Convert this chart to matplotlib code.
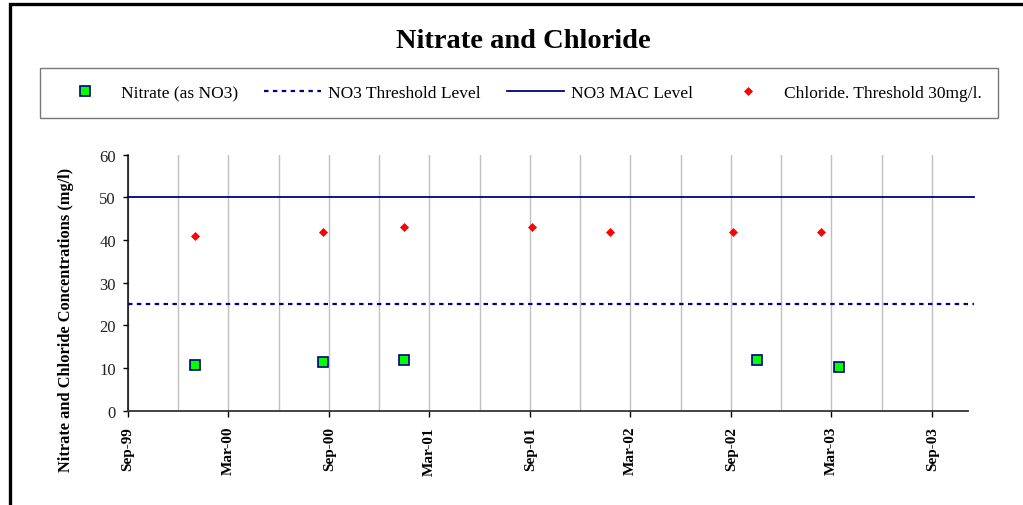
import matplotlib
matplotlib.use("Agg")
import matplotlib.pyplot as plt
import matplotlib.dates as mdates
import matplotlib.patches as mpatches
import numpy as np
import pandas as pd

# ---- data ----
nitrate_dates = ["2000-01-01", "2000-08-21", "2001-01-15", "2002-10-17", "2003-03-15"]
nitrate_vals = [10.6, 11.3, 12.0, 12.0, 10.2]
chloride_dates = ["2000-01-01", "2000-08-21", "2001-01-15", "2001-09-05",
                  "2002-01-24", "2002-09-05", "2003-02-11"]
chloride_vals = [41, 42, 43, 43, 42, 42, 42]
no3_threshold = 25
no3_mac = 50
x_start, x_end = "1999-09-01", "2003-11-05"
y_ticks = [0, 10, 20, 30, 40, 50, 60]

labels = ["Nitrate (as NO3)", "NO3 Threshold Level", "NO3 MAC Level",
          "Chloride. Threshold 30mg/l."]

serif = ["Liberation Serif", "DejaVu Serif"]
plt.rcParams["font.family"] = serif

W, H = 1023, 506
fig = plt.figure(figsize=(W / 100, H / 100), dpi=100)
fig.patch.set_facecolor("white")

L, R, T, B = 127.7, 968, 155.7, 411.7
ax = fig.add_axes([L / W, 1 - B / H, (R - L) / W, (B - T) / H])

nd = pd.to_datetime(nitrate_dates)
cd = pd.to_datetime(chloride_dates)

navy = "#000080"
ext = (974 - L) / (R - L)
h_thr = ax.axhline(no3_threshold, xmin=0, xmax=ext, color=navy, lw=1.6,
                   dashes=(2.0, 2.0), clip_on=False, zorder=3)
h_mac = ax.axhline(no3_mac, xmin=0, xmax=ext, color=navy, lw=1.3,
                   clip_on=False, zorder=3)
h_nit, = ax.plot(nd, nitrate_vals, ls="none", marker="s", ms=6.8,
                 mfc="#00ff00", mec=navy, mew=1.2, zorder=4)
h_chl, = ax.plot(cd, chloride_vals, ls="none", marker="D", ms=4.4,
                 mfc="#ff0000", mec="#ff0000", mew=0.5, zorder=4)

ax.set_xlim(pd.Timestamp(x_start), pd.Timestamp(x_end))
ax.set_ylim(0, 60)
ax.set_yticks(y_ticks)

ax.xaxis.set_major_locator(mdates.MonthLocator(bymonth=[3, 9]))
ax.xaxis.set_major_formatter(mdates.DateFormatter("%b-%y"))
ax.xaxis.set_minor_locator(mdates.MonthLocator(bymonth=[6, 12]))
ax.grid(which="both", axis="x", color="#c0c0c0", lw=1.0, zorder=0)
ax.set_axisbelow(True)

for lab in ax.get_xticklabels():
    lab.set_rotation(90)
    lab.set_fontweight("bold")
    lab.set_fontsize(11)
    lab.set_ha("center")
    lab.set_va("top")
ax.tick_params(axis="x", which="major", direction="out", length=4, width=1,
               pad=7, colors="black")
ax.tick_params(axis="x", which="minor", length=0)
ax.tick_params(axis="y", direction="out", length=3.5, width=1, pad=5,
               labelsize=12, colors="black")
for lab in ax.get_yticklabels():
    lab.set_color("#222222")

for s in ["top", "right"]:
    ax.spines[s].set_visible(False)
ax.spines["left"].set_color("black")
ax.spines["bottom"].set_color("#333333")
ax.spines["left"].set_linewidth(1.1)
ax.spines["bottom"].set_linewidth(1.3)

# title
fig.text(523 / W, 1 - 42 / H, "Nitrate and Chloride", ha="center", va="center",
         fontsize=20.5, fontweight="bold")

# y label
fig.text(66 / W, 1 - 320 / H, "Nitrate and Chloride Concentrations (mg/l)",
         rotation=90, ha="center", va="center", fontsize=11.8, fontweight="bold")

# legend
leg = fig.legend([h_nit, h_thr, h_mac, h_chl], labels, ncol=4, loc="center",
                 bbox_to_anchor=(519 / W, 1 - 94 / H), fontsize=12.5,
                 handlelength=3.3, handletextpad=0.4, columnspacing=1.5,
                 borderpad=0.95, frameon=True, fancybox=False, borderaxespad=0)
leg.get_frame().set_edgecolor("#555555")
leg.get_frame().set_linewidth(1.0)

# outer chart frame (left and top visible)
rect = mpatches.Rectangle((9.5 / W, -0.2), 1.5, 1.2 - 5 / H,
                          transform=fig.transFigure, fill=False,
                          edgecolor="black", lw=2.4, clip_on=False)
fig.patches.append(rect)

fig.savefig("out.png", dpi=100)
